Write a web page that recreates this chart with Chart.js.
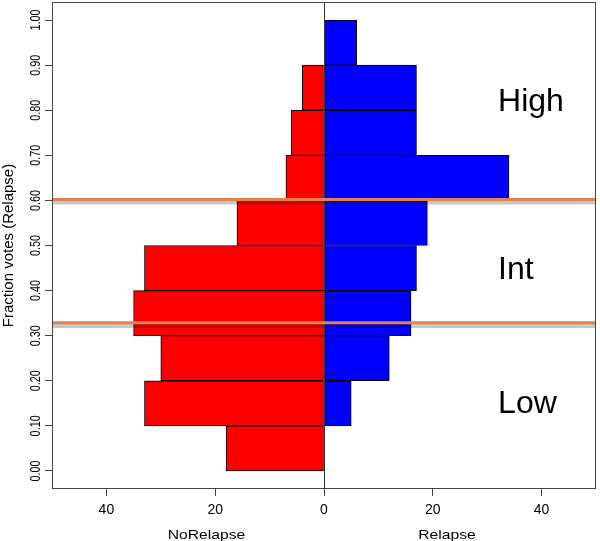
<!DOCTYPE html>
<html>
<head>
<meta charset="utf-8">
<script src="https://cdn.jsdelivr.net/npm/chart.js@4.4.1/dist/chart.umd.min.js"></script>
<style>
html, body { margin: 0; padding: 0; background: #fff; }
#wrap { width: 600px; height: 541px; position: relative; }
</style>
</head>
<body>
<div id="wrap"><canvas id="chart"></canvas></div>
<script>
// histogram bins of the relapse vote fraction (bin centres, width 0.1)
const binCenters = [0.05, 0.15, 0.25, 0.35, 0.45, 0.55, 0.65, 0.75, 0.85, 0.95];
const noRelapseCounts = [18, 33, 30, 35, 33, 16, 7, 6, 4, 0];
const relapseCounts = [0, 5, 12, 16, 17, 19, 34, 17, 17, 6];

const yTickValues = [0, 0.1, 0.2, 0.3, 0.4, 0.5, 0.6, 0.7, 0.8, 0.9, 1.0];
const xTickValues = [-40, -20, 0, 20, 40];

// risk group cut-offs (orange line + grey shadow just below)
const cutoffLines = [0.602, 0.3285];
const cutoffShadows = [0.5955, 0.3215];

const zoneLabels = ['High', 'Int', 'Low'];
const zoneLabelY = [0.798, 0.426, 0.129];
const sideLabels = ['NoRelapse', 'Relapse'];
const sideLabelX = [-21.6, 22.6];

const FONT = "'Liberation Sans', Arial, Helvetica, sans-serif";

// skip empty bins so no zero-width outline is drawn
const toPoints = (counts, sign) => counts
    .map((c, i) => ({ x: sign * c, y: binCenters[i] }))
    .filter(p => p.x !== 0);

const decorations = {
    id: 'decorations',
    afterDatasetsDraw(chart) {
        const { ctx, chartArea: a, scales: { x, y } } = chart;
        ctx.save();
        // zero line
        const x0 = Math.round(x.getPixelForValue(0)) + 0.5;
        ctx.strokeStyle = '#333';
        ctx.lineWidth = 1;
        ctx.beginPath();
        ctx.moveTo(x0, a.top);
        ctx.lineTo(x0, a.bottom);
        ctx.stroke();

        // shadows then orange cut-off lines
        ctx.strokeStyle = 'rgba(0,0,0,0.22)';
        ctx.lineWidth = 4;
        cutoffShadows.forEach(v => {
            const py = y.getPixelForValue(v);
            ctx.beginPath();
            ctx.moveTo(a.left, py);
            ctx.lineTo(a.right, py);
            ctx.stroke();
        });
        ctx.strokeStyle = '#e2824f';
        ctx.lineWidth = 3;
        cutoffLines.forEach(v => {
            const py = y.getPixelForValue(v);
            ctx.beginPath();
            ctx.moveTo(a.left, py);
            ctx.lineTo(a.right, py);
            ctx.stroke();
        });

        // box
        ctx.strokeStyle = '#444';
        ctx.lineWidth = 1;
        ctx.strokeRect(a.left + 0.5, a.top + 0.5, a.width - 1, a.height - 1);

        // zone labels
        ctx.fillStyle = '#000';
        ctx.font = '32px ' + FONT;
        ctx.textAlign = 'left';
        ctx.textBaseline = 'alphabetic';
        zoneLabels.forEach((t, i) => {
            ctx.fillText(t, x.getPixelForValue(32), y.getPixelForValue(zoneLabelY[i]));
        });
        ctx.restore();
    },
    afterDraw(chart) {
        const { ctx, scales: { x, y } } = chart;
        ctx.save();
        ctx.fillStyle = '#000';
        // rotated y tick labels, R style
        ctx.font = '15px ' + FONT;
        ctx.textAlign = 'center';
        ctx.textBaseline = 'alphabetic';
        yTickValues.forEach(v => {
            ctx.save();
            ctx.translate(39.5, y.getPixelForValue(v));
            ctx.rotate(-Math.PI / 2);
            ctx.scale(0.72, 1);
            ctx.fillText(v.toFixed(2), 0, 0);
            ctx.restore();
        });
        // side titles under the x axis
        ctx.font = '13.5px ' + FONT;
        sideLabels.forEach((t, i) => {
            ctx.save();
            ctx.translate(x.getPixelForValue(sideLabelX[i]), 538.5);
            ctx.scale(1.16, 1);
            ctx.fillText(t, 0, 0);
            ctx.restore();
        });
        ctx.restore();
    }
};

new Chart(document.getElementById('chart'), {
    type: 'bar',
    data: {
        datasets: [
            {
                label: 'NoRelapse',
                data: toPoints(noRelapseCounts, -1),
                backgroundColor: '#ff0000'
            },
            {
                label: 'Relapse',
                data: toPoints(relapseCounts, 1),
                backgroundColor: '#0000ff'
            }
        ]
    },
    options: {
        indexAxis: 'y',
        responsive: true,
        maintainAspectRatio: false,
        animation: false,
        devicePixelRatio: 1,
        layout: { padding: { top: 2, right: 4, left: 0, bottom: 0 } },
        datasets: {
            bar: {
                grouped: false,
                barPercentage: 1,
                categoryPercentage: 1,
                borderColor: '#000',
                borderWidth: 1,
                borderSkipped: false
            }
        },
        plugins: {
            legend: { display: false },
            tooltip: { enabled: false }
        },
        scales: {
            x: {
                type: 'linear',
                min: -50,
                max: 50,
                afterBuildTicks: s => { s.ticks = xTickValues.map(v => ({ value: v })); },
                afterFit: s => { s.height = 52; },
                border: { display: false },
                grid: { drawOnChartArea: false, drawTicks: true, tickLength: 7, color: '#444' },
                ticks: {
                    color: '#000',
                    padding: 6,
                    font: { family: FONT, size: 14 },
                    callback: v => String(Math.abs(v))
                }
            },
            y: {
                type: 'linear',
                min: -0.04,
                max: 1.04,
                offset: false,
                afterBuildTicks: s => { s.ticks = yTickValues.map(v => ({ value: v })); },
                afterFit: s => { s.width = 52; },
                border: { display: false },
                grid: { offset: false, drawOnChartArea: false, drawTicks: true, tickLength: 7, color: '#444' },
                ticks: { display: false },
                title: {
                    display: true,
                    text: 'Fraction votes (Relapse)',
                    color: '#000',
                    padding: 0,
                    font: { family: FONT, size: 15 }
                }
            }
        }
    },
    plugins: [decorations]
});
</script>
</body>
</html>
